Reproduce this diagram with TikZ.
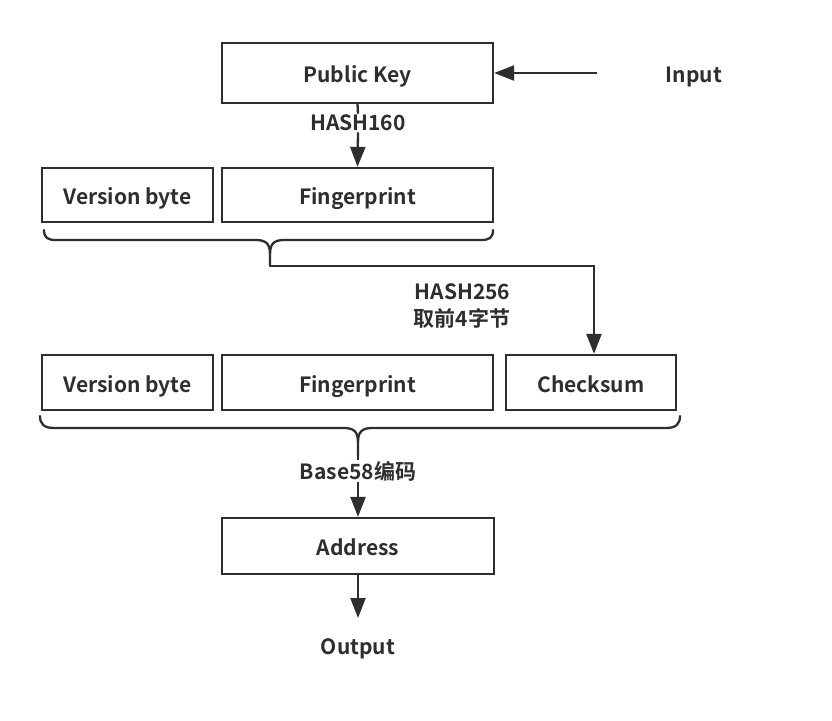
\documentclass[tikz,border=0pt]{standalone}
\usepackage{fontspec}
\setmainfont{Noto Sans CJK SC}[BoldFont={* Bold}]
\usetikzlibrary{arrows.meta}
\definecolor{ink}{HTML}{2E2E2E}
\tikzset{
  txt/.style={font=\fontsize{21}{27}\selectfont\bfseries, text=ink},
  box/.style={draw=ink, line width=2.3pt, inner sep=0pt, txt, text height=21pt, text depth=2pt},
  lbl/.style={txt, inner sep=1pt},
  conn/.style={draw=ink, line width=2.3pt},
  arr/.style={conn, -{Triangle[length=20pt,width=15pt]}},
}
\begin{document}
\begin{tikzpicture}[x=1pt,y=-1pt]
\useasboundingbox[fill=white] (0,0) rectangle (832,720);
% row 0
\node[box, minimum width=271pt, minimum height=60pt] (pk) at (357.5,73) {Public Key};
\node[lbl] (inp) at (694,77) {Input};
\coordinate (inS) at (597,73);
% row 1
\node[box, minimum width=171pt, minimum height=54pt] (vb1) at (127.5,195) {Version byte};
\node[box, minimum width=271pt, minimum height=54pt] (fp1) at (357.5,195) {Fingerprint};
% row 2
\node[box, minimum width=171pt, minimum height=55pt] (vb2) at (127.5,382.5) {Version byte};
\node[box, minimum width=271pt, minimum height=55pt] (fp2) at (357.5,382.5) {Fingerprint};
\node[box, minimum width=170pt, minimum height=55pt] (cs) at (591,382.5) {Checksum};
% address
\node[box, minimum width=272pt, minimum height=56pt] (addr) at (358,546) {Address};
\node[lbl] (out) at (358,649) {Output};
% labels
\node[lbl, fill=white] (h160) at (358,123) {HASH160};
\node[lbl, align=right] (h256) at (462,306) {HASH256\\取前4字节};
\node[lbl, fill=white] (b58) at (358,471) {Base58编码};

% connectors
\draw[arr] (inS) -- (pk.east);
\draw[conn] (pk.south) -- (h160.north);
\draw[arr] (h160.south) -- (fp1.north);

% brace 1
\coordinate (t1) at (270,266);
\draw[conn, line cap=round, line join=round]
  (44,230) .. controls (44,238) and (48,240) .. (56,240) -- (256,240)
  .. controls (266,240) and (270,244) .. (270,254) -- (t1);
\draw[conn, line cap=round, line join=round]
  (493,230) .. controls (493,238) and (489,240) .. (481,240) -- (284,240)
  .. controls (274,240) and (270,244) .. (270,254);
\coordinate (c1) at (594,266);
\draw[arr] (t1) -- (c1) -- (cs.north -| c1);

% brace 2
\coordinate (t2) at (358,456);
\draw[conn, line cap=round, line join=round]
  (40,416) .. controls (40,424) and (44,428) .. (54,428) -- (344,428)
  .. controls (354,428) and (358,432) .. (358,442) -- (t2);
\draw[conn, line cap=round, line join=round]
  (680,416) .. controls (680,424) and (676,428) .. (666,428) -- (372,428)
  .. controls (362,428) and (358,432) .. (358,442);
\draw[conn] (t2) -- (b58.north);
\draw[arr] (b58.south) -- (addr.north);

\coordinate (oe) at (358,618);
\draw[arr] (addr.south) -- (oe);
\end{tikzpicture}
\end{document}
